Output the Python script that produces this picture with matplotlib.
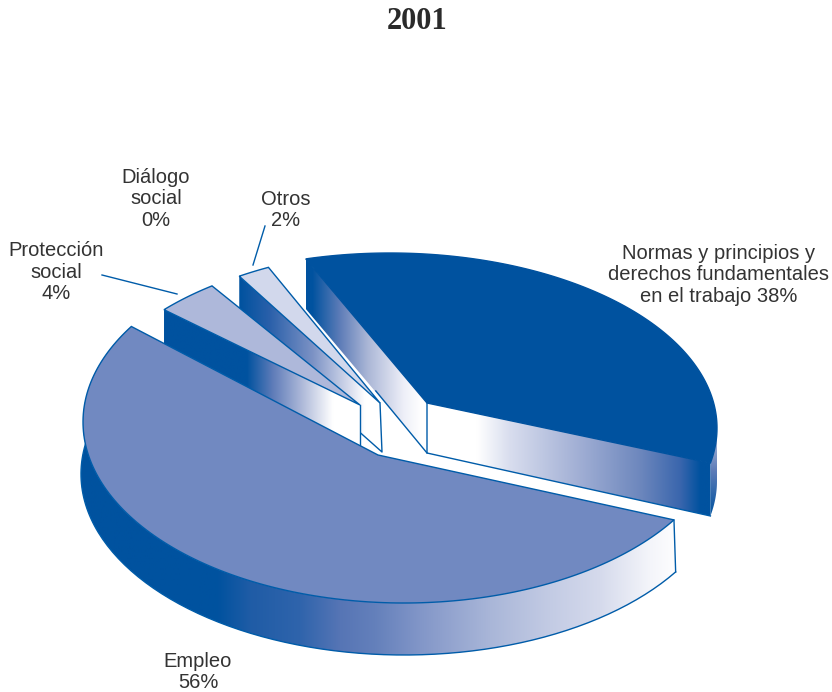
#!/usr/bin/python
import matplotlib
matplotlib.use("Agg")
import matplotlib.pyplot as plt
from matplotlib.patches import Polygon
from matplotlib.colors import to_rgb
import numpy as np

title = "2001"
categories = ["Empleo", "Protección social", "Diálogo social", "Otros",
              "Normas y principios y derechos fundamentales en el trabajo"]
values = [56, 4, 0, 2, 38]
label_texts = ["Empleo\n56%", "Protección\nsocial\n4%", "Diálogo\nsocial\n0%", "Otros\n2%",
               "Normas y principios y\nderechos fundamentales\nen el trabajo 38%"]

# layout of the perspective pie, pixels of the 832x692 picture
START = 20.5
RIM_C = np.array([404.0, 422.0])
RIM_A, RIM_B = 321.0, 181.0
APEX = np.array([378.0, 455.0])
BLUE = "#00529f"
LINE = "#005ca9"
TXT = "#333333"


def ray_dir(deg):
    # pie angle -> screen direction from the apex, circle seen in perspective
    p = (APEX - RIM_C) / [RIM_A, RIM_B]
    beta = np.hypot(*p)
    n = p / beta
    u = np.array([-n[1], n[0]])
    d = np.radians(deg)
    w = np.array([np.cos(d), np.sin(d)])
    par, perp = w @ n, w @ u
    g = 1 + beta * par
    q = (par + beta) / g * n + perp * np.sqrt(1 - beta ** 2) / g * u
    return RIM_C + q * [RIM_A, RIM_B] - APEX


def hit_param(apex, center, a, b, d):
    # where the ray from apex meets the ellipse, as ellipse parameter
    o = (apex - center) / [a, b]
    v = d / [a, b]
    qa, qb, qc = v @ v, 2 * o @ v, o @ o - 1
    t = (-qb + np.sqrt(qb ** 2 - 4 * qa * qc)) / (2 * qa)
    pt = o + t * v
    return np.arctan2(pt[1], pt[0])


def arc_pts(center, a, b, t0, t1, drop=0, n=160):
    t = np.linspace(t0, t1, n)
    return np.column_stack([center[0] + a * np.cos(t), center[1] + b * np.sin(t) + drop])


def slice_arc(apex, center, a, b, deg0, sweep):
    t0 = hit_param(apex, center, a, b, ray_dir(deg0))
    t1 = hit_param(apex, center, a, b, ray_dir(deg0 + sweep))
    if t1 < t0:
        t1 += 2 * np.pi
    return t0, t1


def gradient_wall(ax, pts, stops, colors, z, vertical=False):
    pts = np.asarray(pts)
    x0, y0 = pts.min(axis=0)
    x1, y1 = pts.max(axis=0)
    lo, hi = (y0, y1) if vertical else (x0, x1)
    s = np.linspace(lo, hi, 600)
    rgb = np.array([to_rgb(c) for c in colors])
    img = np.stack([np.interp(s, stops, rgb[:, i]) for i in range(3)], axis=-1)
    img = img[:, None, :] if vertical else img[None, :, :]
    poly = Polygon(pts, closed=True, fc="none", ec="none", zorder=z)
    ax.add_patch(poly)
    im = ax.imshow(img, extent=[x0, x1, y1, y0], aspect="auto", zorder=z, interpolation="bilinear")
    im.set_clip_path(poly)


def drop_face(p, q, h):
    return [p, q, (q[0], q[1] + h), (p[0], p[1] + h)]


def top_face(ax, center, arc, color, z, edge=True):
    ax.add_patch(Polygon(np.vstack([[center], arc]), closed=True, fc=color,
                         ec=LINE if edge else color, lw=1.0, joinstyle="miter", zorder=z))


def main():
    fig = plt.figure(figsize=(8.32, 6.92), dpi=100)
    ax = fig.add_axes([0, 0, 1, 1])
    plt.rcParams["font.family"] = ["Liberation Sans", "DejaVu Sans"]

    sweeps = [v * 3.6 for v in values]
    starts = START + np.cumsum([0] + sweeps[:-1])

    # Normas
    c = np.array([427.0, 403.0])
    h = 50
    ec, ea, eb = np.array([390.0, 428.0]), 327.0, 175.0
    t0, t1 = slice_arc(c, ec, ea, eb, starts[4] + 1.5, sweeps[4] - 1.5)
    arc = arc_pts(ec, ea, eb, t0, t1)
    end_t = t1 if t1 < np.pi else t1 - 2 * np.pi
    side = np.vstack([arc_pts(ec, ea, eb, 0, end_t), arc_pts(ec, ea, eb, 0, end_t, drop=h + 3)[::-1]])
    gradient_wall(ax, side, [425, 470, 515], ["#c4cce2", "#5f7db8", BLUE], 2, vertical=True)
    gradient_wall(ax, drop_face(arc[0], c, h), [306, 312, 340, 367, 403, 420],
                  [BLUE, BLUE, "#5f7db8", "#aab6d6", "#eeeff8", "#ffffff"], 2)
    front = [c, arc[-1], (arc[-1][0], arc[-1][1] + h + 3), (c[0], c[1] + h)]
    gradient_wall(ax, front, [427, 477, 510, 580, 640, 680, 700, 715],
                  ["#ffffff", "#ffffff", "#d8ddee", "#a0aed4", "#6d87bd", "#3a66ad", BLUE, BLUE], 3)
    ax.plot([c[0], c[0], arc[-1][0]], [c[1], c[1] + h, arc[-1][1] + h + 3], color=LINE, lw=1.0, zorder=3)
    ax.plot([arc[0][0] + 70, c[0]], [arc[0][1] + h + 82, c[1] + h], color=LINE, lw=1.0, zorder=3)
    top_face(ax, c, arc, BLUE, 4, edge=False)

    # Otros
    c = np.array([380.0, 403.0])
    h = 49
    ec = np.array([405.6, 431.0])
    t0, t1 = slice_arc(c, ec, RIM_A, RIM_B, starts[3] + 2, sweeps[3])
    arc = arc_pts(ec, RIM_A, RIM_B, t0, t1)
    gradient_wall(ax, drop_face(arc[0], c, h), [240, 270, 313, 347, 365],
                  [BLUE, "#2a60aa", "#7c92c5", "#d0d6ea", "#ffffff"], 5)
    ax.plot([c[0], c[0] + 2, arc[0][0]], [c[1], c[1] + h, arc[0][1] + h], color=LINE, lw=1.0, zorder=5)
    top_face(ax, c, arc, "#d2d8ec", 6)

    # Proteccion
    c = np.array([360.0, 405.0])
    h = 42
    ec = np.array([399.0, 433.0])
    t0, t1 = slice_arc(c, ec, RIM_A, RIM_B, starts[1] - 1, sweeps[1])
    arc = arc_pts(ec, RIM_A, RIM_B, t0, t1)
    gradient_wall(ax, drop_face(arc[0], c, h), [162, 247, 273, 303, 333],
                  [BLUE, BLUE, "#5f7cb9", "#b0bbda", "#ffffff"], 7)
    ax.plot([c[0], c[0]], [c[1], c[1] + h], color=LINE, lw=1.0, zorder=7)
    top_face(ax, c, arc, "#aeb8da", 8)

    # Empleo
    h = 52
    t0, t1 = slice_arc(APEX, RIM_C, RIM_A, RIM_B, starts[0] + 0.7, sweeps[0] + 0.3)
    arc = arc_pts(RIM_C, RIM_A, RIM_B, t0, t1)
    low = arc_pts(RIM_C, RIM_A + 2, RIM_B, t0, t1, drop=h)
    wall = np.vstack([arc, low[::-1]])
    gradient_wall(ax, wall, [80, 217, 250, 300, 340, 375, 420, 490, 550, 600, 650, 680],
                  [BLUE, BLUE, "#1f5ca6", "#2f64ac", "#5675b5", "#6480bb", "#8296c8",
                   "#a9b6d8", "#c3cbe4", "#d5daec", "#f4f5fa", "#ffffff"], 9)
    ax.plot(low[:, 0], low[:, 1], color=LINE, lw=1.0, zorder=9)
    ax.plot([arc[0][0], low[0][0]], [arc[0][1], low[0][1]], color=LINE, lw=1.0, zorder=9)
    top_face(ax, APEX, arc, "#7189c1", 10)

    # leader lines
    ax.plot([102, 177], [275, 294], color=LINE, lw=1.0, zorder=11)
    ax.plot([265, 253], [226, 265], color=LINE, lw=1.0, zorder=11)

    ax.text(417.5, 21.5, title, family="Liberation Serif", weight="bold", fontsize=22,
            color="#2a2a2a", ha="center", va="center")
    label_pos = [(198, 672), (56, 272), (156, 199), (285.5, 210), (719, 275)]
    for txt, (x, y) in zip(label_texts, label_pos):
        ax.text(x, y, txt, fontsize=14.5, color=TXT, ha="center", va="center", linespacing=1.16, zorder=12)

    ax.set_xlim(0, 832)
    ax.set_ylim(692, 0)
    ax.axis("off")
    fig.savefig("out.png", dpi=100)


if __name__ == "__main__":
    main()
